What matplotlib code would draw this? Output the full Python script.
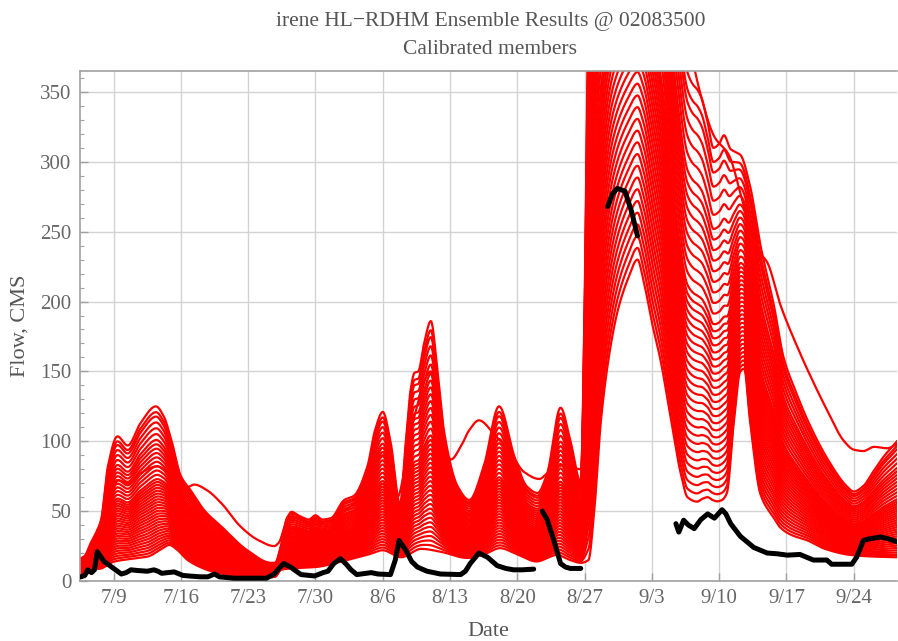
import numpy as np
import matplotlib
matplotlib.use("Agg")
import matplotlib.pyplot as plt
from matplotlib.ticker import MultipleLocator, FixedLocator

# ---- time axis: days counted from 7/9 ----
tick_days = [0, 7, 14, 21, 28, 35, 42, 49, 56, 63, 70, 77]
tick_labels = ["7/9", "7/16", "7/23", "7/30", "8/6", "8/13", "8/20",
               "8/27", "9/3", "9/10", "9/17", "9/24"]

# ---- lowest calibrated member ----
low_days = [-3.5, -2.8, -2.2, -1.3, 0.0, 2.0, 3.5, 5.0, 5.8, 6.5, 7.7, 9.0,
            10.4, 12.0, 13.9, 16.0, 16.8, 17.4, 18.5, 21.0, 24.3, 26.5, 28.0,
            29.9, 32.0, 34.0, 36.8, 38.5, 40.2, 42.0, 44.0, 46.1, 47.5, 48.6,
            49.4, 50.0, 50.7, 51.7, 52.5, 53.5, 54.5, 55.1, 56.0, 56.9, 58.0,
            59.0, 59.7, 60.7, 61.3, 61.8, 62.3, 62.8, 63.3, 63.8, 64.5, 65.2,
            65.6, 66.2, 67.3, 68.7, 69.4, 70.5, 72.2, 74.0, 76.7, 79.0, 81.5]
low_flow = [3, 5, 8, 9, 13.8, 16, 17.4, 23, 25.8, 23, 15, 10,
            6.5, 4.5, 3, 2.5, 3, 8, 9, 10, 15, 19, 22,
            17, 23, 21, 16.5, 19, 23.5, 19, 14, 18.6, 15, 13,
            15, 50, 115, 168, 195, 216, 230, 216, 185, 158, 115,
            77, 60, 56.8, 59, 60, 58, 57, 58, 63, 112, 150,
            152, 115, 62, 45, 38, 33, 29, 23, 18.6, 17.5, 17]

# ---- highest calibrated member ----
high_days = [-3.5, -3.0, -2.4, -1.8, -1.3, -0.6, 0.4, 1.46, 2.8, 4.4, 5.2,
             6.0, 7.0, 8.0, 9.5, 11.2, 13.9, 16.4, 16.8, 17.4, 18.1, 18.6,
             19.5, 20.3, 21.0, 21.7, 22.6, 24.0, 25.0, 26.4, 27.2, 28.0, 28.8,
             29.8, 30.4, 30.9, 31.3, 31.7, 32.3, 33.0, 33.7, 34.4, 35.8, 37.0,
             38.5, 40.1, 41.7, 43.0, 44.1, 45.1, 46.5, 47.5, 48.6, 49.0, 49.3,
             49.6, 50.5, 52.0, 55.0, 57.0, 58.5, 59.7, 60.3, 60.7, 61.2, 61.8,
             62.4, 63.0, 63.5, 64.2, 64.7, 65.2, 66.2, 67.3, 68.7, 69.7, 71.0,
             72.2, 74.3, 76.3, 77.0, 78.0, 79.0, 80.0, 81.5]
high_flow = [16, 18, 27, 35, 44, 82, 103.5, 97, 113, 125, 118,
             101, 75, 65, 50, 39, 22, 13, 13, 25, 46, 48,
             46, 44, 47, 44, 45, 58, 61, 82, 108, 121, 100,
             55, 100, 137, 149, 150, 170, 186, 150, 106, 67.6, 58,
             82, 125, 89, 67.6, 63, 77, 124, 101, 71, 200, 365,
             480, 580, 640, 650, 560, 430, 364, 355, 352, 345, 328,
             310, 313, 319, 309, 307, 305, 283, 240, 197, 160, 135,
             115, 87, 67.6, 64, 68, 78, 88, 100]

# ---- slow-recession member ----
slow_days = [-3.5, -2.5, -1.5, -0.5, 0.5, 1.5, 3.0, 4.5, 6.0, 7.3, 8.4, 9.7,
             11.2, 13.2, 15.0, 16.7, 17.2, 18.0, 18.5, 19.2, 20.5, 22.0, 24.0,
             26.0, 28.0, 29.5, 31.0, 33.0, 34.0, 35.1, 36.1, 37.0, 38.0, 39.6,
             41.3, 42.7, 44.3, 45.1, 46.9, 48.6, 49.2, 49.6, 57.0, 59.5, 61.0,
             62.5, 64.0, 65.5, 67.0, 68.0, 69.4, 71.1, 72.2, 74.2, 76.0, 77.0,
             78.0, 79.1, 80.5, 81.5]
slow_flow = [10, 24, 38, 60, 72, 70, 78, 82, 76, 66, 69, 65,
             55.7, 39, 29.4, 25, 27.6, 44, 49.5, 47, 40, 42, 50,
             62, 90, 60, 110, 150, 105, 87, 96, 108, 115, 105,
             91.5, 78, 73, 77, 83, 80, 250, 450, 520, 400, 350,
             318, 305, 270, 237, 228, 197, 168, 151, 122.6, 100, 94,
             93, 96, 95, 98]

# relative position of each member between the lowest and highest member
member_levels = [0.00, 0.02, 0.04, 0.06, 0.08, 0.10, 0.12, 0.14, 0.16, 0.18,
                 0.20, 0.22, 0.24, 0.26, 0.28, 0.30, 0.32, 0.34, 0.36, 0.38,
                 0.40, 0.42, 0.44, 0.46, 0.48, 0.50, 0.53, 0.56, 0.59, 0.62,
                 0.65, 0.68, 0.71, 0.74, 0.77, 0.81, 0.85, 0.89, 0.93, 0.96,
                 1.00]

# ---- observed flow (gaps are missing records) ----
obs_days = [-3.4, -3.0, -2.7, -2.3, -2.0, -1.7, -1.4, -1.0, -0.6, 0.0, 0.8,
            1.3, 1.8, 2.5, 3.5, 4.2, 4.6, 5.0, 5.6, 6.3, 7.2, 8.0, 9.0, 9.8,
            10.5, 11.0, 12.5, 14.0, 15.9, 16.7, 17.2, 17.7, 18.4, 19.0, 19.5,
            20.9, 21.8, 22.3, 22.9, 23.6, 24.2, 24.7, 25.3, 26.8, 27.5, 28.8,
            29.3, 29.7, 30.4, 31.0, 31.6, 32.6, 34.0, 36.1, 36.6, 37.1, 38.0,
            38.9, 39.9, 40.8, 41.6, 42.5, 43.7, np.nan,
            44.6, 45.1, 45.8, 46.5, 47.0, 47.5, 48.6, np.nan,
            51.4, 51.9, 52.4, 53.2, 53.9, 54.5, np.nan,
            58.5, 58.8, 59.3, 59.8, 60.4, 61.1, 61.8, 62.5, 63.3, 63.7, 64.2,
            65.2, 66.6, 68.0, 69.0, 70.1, 71.4, 72.8, 74.2, 74.7, 76.8, 77.3,
            78.0, 78.5, 79.8, 80.7, 81.5]
obs_flow = [3, 4, 8, 6, 8, 21, 18, 14, 12, 9, 5,
            6, 8, 7.5, 7, 8, 7, 5.5, 6, 6.5, 4, 3.5, 3, 3,
            5, 3, 2, 2, 2, 5, 9, 12.5, 10, 7, 4.6,
            3.6, 6, 7, 12.5, 16, 12, 8, 4.6, 6, 5, 4.6,
            15, 29, 22, 14, 10, 7, 5, 4.6, 7, 12.5, 20,
            17, 11, 9, 8, 8, 8.5, np.nan,
            50, 44, 29, 12.5, 10, 9, 9, np.nan,
            268, 277, 281, 279, 264, 247, np.nan,
            41, 35, 43.5, 40, 37.5, 44, 48, 45, 51, 48, 41,
            32, 24, 20, 19.5, 18.5, 19, 15, 15, 12, 12, 17,
            29, 30, 31.5, 30, 28]


def pchip(x, y, xi):
    """Shape-preserving piecewise cubic through the given knots."""
    x = np.asarray(x, float)
    y = np.asarray(y, float)
    h = np.diff(x)
    delta = np.diff(y) / h
    n = len(x)
    d = np.zeros(n)
    for k in range(1, n - 1):
        if delta[k - 1] * delta[k] > 0:
            w1 = 2 * h[k] + h[k - 1]
            w2 = h[k] + 2 * h[k - 1]
            d[k] = (w1 + w2) / (w1 / delta[k - 1] + w2 / delta[k])
    d[0] = delta[0]
    d[-1] = delta[-1]
    idx = np.clip(np.searchsorted(x, xi) - 1, 0, n - 2)
    t = (xi - x[idx]) / h[idx]
    h00 = 2 * t**3 - 3 * t**2 + 1
    h10 = t**3 - 2 * t**2 + t
    h01 = -2 * t**3 + 3 * t**2
    h11 = t**3 - t**2
    return (h00 * y[idx] + h10 * h[idx] * d[idx]
            + h01 * y[idx + 1] + h11 * h[idx] * d[idx + 1])


t = np.linspace(-3.5, 81.5, 2200)
low = pchip(low_days, low_flow, t)
high = pchip(high_days, high_flow, t)
slow = pchip(slow_days, slow_flow, t)

plt.rcParams["font.family"] = ["Liberation Serif", "DejaVu Serif"]
text_col = "#555555"
grid_col = "#d3d3d3"
frame_col = "#a0a0a0"

fig = plt.figure(figsize=(8.98, 6.41), dpi=100)
ax = fig.add_axes([80 / 898, 1 - 581 / 641, 817 / 898, 510 / 641])

for lev in member_levels:
    ax.plot(t, low + lev * (high - low), color="#ff0000", lw=1.6,
            solid_joinstyle="round", zorder=2)
ax.plot(t, slow, color="#ff0000", lw=1.6, zorder=2)

ax.plot(obs_days, obs_flow, color="black", lw=3.6, solid_capstyle="round",
        solid_joinstyle="round", zorder=3)

ax.set_xlim(-3.5, 81.5)
ax.set_ylim(0, 365)
ax.xaxis.set_major_locator(FixedLocator(tick_days))
ax.set_xticklabels(tick_labels)
ax.yaxis.set_major_locator(MultipleLocator(50))
ax.yaxis.set_minor_locator(MultipleLocator(10))

ax.grid(True, which="major", color=grid_col, lw=1.0, zorder=0)
ax.set_axisbelow(True)
ax.tick_params(axis="both", which="major", direction="in", length=6,
               width=1, color=frame_col, labelcolor="#666666", labelsize=15,
               pad=6)
ax.tick_params(axis="y", which="minor", direction="in", length=3,
               width=0.8, color=frame_col)
for side in ("left", "bottom", "top"):
    ax.spines[side].set_color(frame_col)
    ax.spines[side].set_linewidth(1.2)
ax.spines["right"].set_visible(False)

ax.set_xlabel("Date", fontsize=16, color=text_col, labelpad=10)
ax.set_ylabel("Flow, CMS", fontsize=16, color=text_col, labelpad=8)

fig.text(0.546, 0.967, "irene HL\u2212RDHM Ensemble Results @ 02083500",
         ha="center", va="center", fontsize=15.5, color=text_col)
fig.text(0.546, 0.922, "Calibrated members", ha="center", va="center",
         fontsize=15.5, color=text_col)

fig.savefig("out.png", dpi=100)
